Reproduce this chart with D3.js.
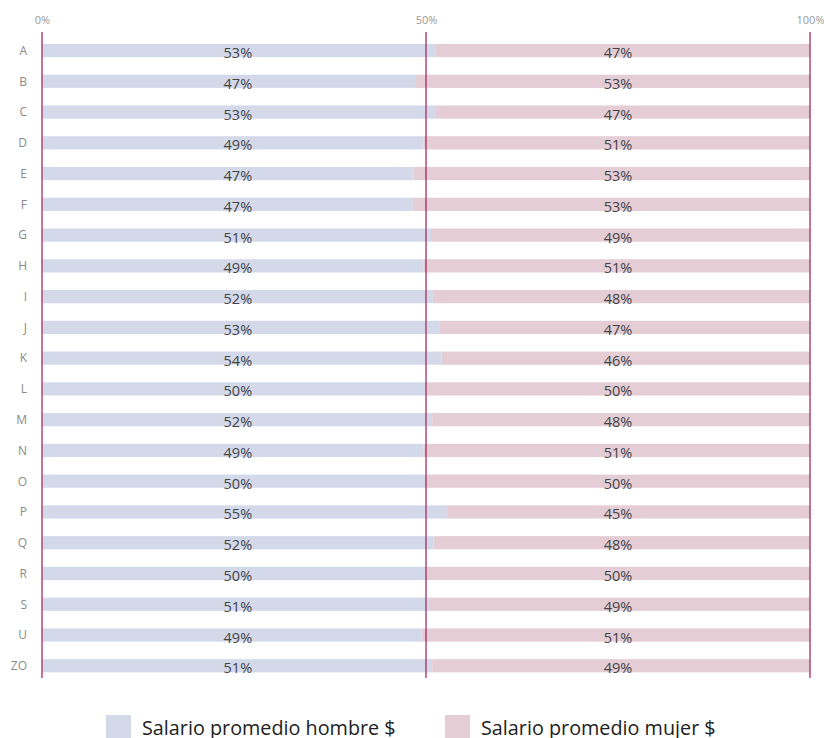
<!DOCTYPE html>
<html><head><meta charset="utf-8">
<script src="https://cdn.jsdelivr.net/npm/d3@7"></script>
<style>body{margin:0;background:#fff;}svg{display:block;font-family:"Open Sans",sans-serif;}</style>
</head><body>
<script>
const categories = ["A","B","C","D","E","F","G","H","I","J","K","L","M","N","O","P","Q","R","S","U","ZO"];
// share of male salary in stacked bar (0-1)
const maleShare = [0.512,0.487,0.513,0.497,0.484,0.483,0.5065,0.497,0.509,0.518,0.520,0.500,0.508,0.497,0.500,0.527,0.510,0.500,0.504,0.494,0.508];
const maleLabels = ["53%","47%","53%","49%","47%","47%","51%","49%","52%","53%","54%","50%","52%","49%","50%","55%","52%","50%","51%","49%","51%"];
const femaleLabels = ["47%","53%","47%","51%","53%","53%","49%","51%","48%","47%","46%","50%","48%","51%","50%","45%","48%","50%","49%","51%","49%"];
const tickValues = [0, 0.5, 1];
const seriesNames = ["Salario promedio hombre $","Salario promedio mujer $"];
const colors = ["#d4d9ea","#e5cdd6"];

const W = 824, H = 738;
const svg = d3.select("body").append("svg").attr("width", W).attr("height", H);
const x = d3.scaleLinear().domain([0,1]).range([42,810]);
const y = d3.scaleBand().domain(categories).range([35.3, 681]).paddingInner(0.57).paddingOuter(0.28);

const rows = svg.append("g").selectAll("g").data(categories).join("g")
  .attr("transform", d => `translate(0,${y(d)})`);
rows.append("rect").attr("x", x(0)).attr("y",0).attr("height", y.bandwidth())
  .attr("width", (d,i) => x(maleShare[i]) - x(0)).attr("fill", colors[0]);
rows.append("rect").attr("x", (d,i)=>x(maleShare[i])).attr("y",0).attr("height", y.bandwidth())
  .attr("width", (d,i) => x(1) - x(maleShare[i])).attr("fill", colors[1]);
rows.append("text").attr("x", 27).attr("y", y.bandwidth()/2 + 4.3)
  .attr("text-anchor","end").attr("font-size",12).attr("fill","#8a8a8a").text(d=>d);
rows.append("text").attr("x", x(0.255)).attr("y", y.bandwidth()/2 + 7.5)
  .attr("text-anchor","middle").attr("font-size",14.5).attr("fill","#444").text((d,i)=>maleLabels[i]);
rows.append("text").attr("x", x(0.75)).attr("y", y.bandwidth()/2 + 7.5)
  .attr("text-anchor","middle").attr("font-size",14.5).attr("fill","#444").text((d,i)=>femaleLabels[i]);

const axis = svg.append("g").attr("transform","translate(0,23.5)")
  .call(d3.axisTop(x).tickValues(tickValues).tickFormat(d3.format(".0%")).tickSize(0).tickPadding(0));
axis.select(".domain").remove();
axis.selectAll("text").attr("font-size",11).attr("fill","#999").attr("font-family","Open Sans, sans-serif");

svg.append("g").selectAll("line").data(tickValues).join("line")
  .attr("x1", d=>x(d)).attr("x2", d=>x(d)).attr("y1", 32).attr("y2", 678)
  .attr("stroke","#9e1a5c").attr("stroke-width",1.2);

const legend = svg.append("g");
const lx = [106, 445];
seriesNames.forEach((s,i)=>{
  legend.append("rect").attr("x", lx[i]).attr("y", 715).attr("width",25).attr("height",24).attr("fill", colors[i]);
  legend.append("text").attr("x", lx[i]+36).attr("y", 735).attr("font-size",19.8).attr("fill","#222").text(s);
});
</script>
</body></html>
